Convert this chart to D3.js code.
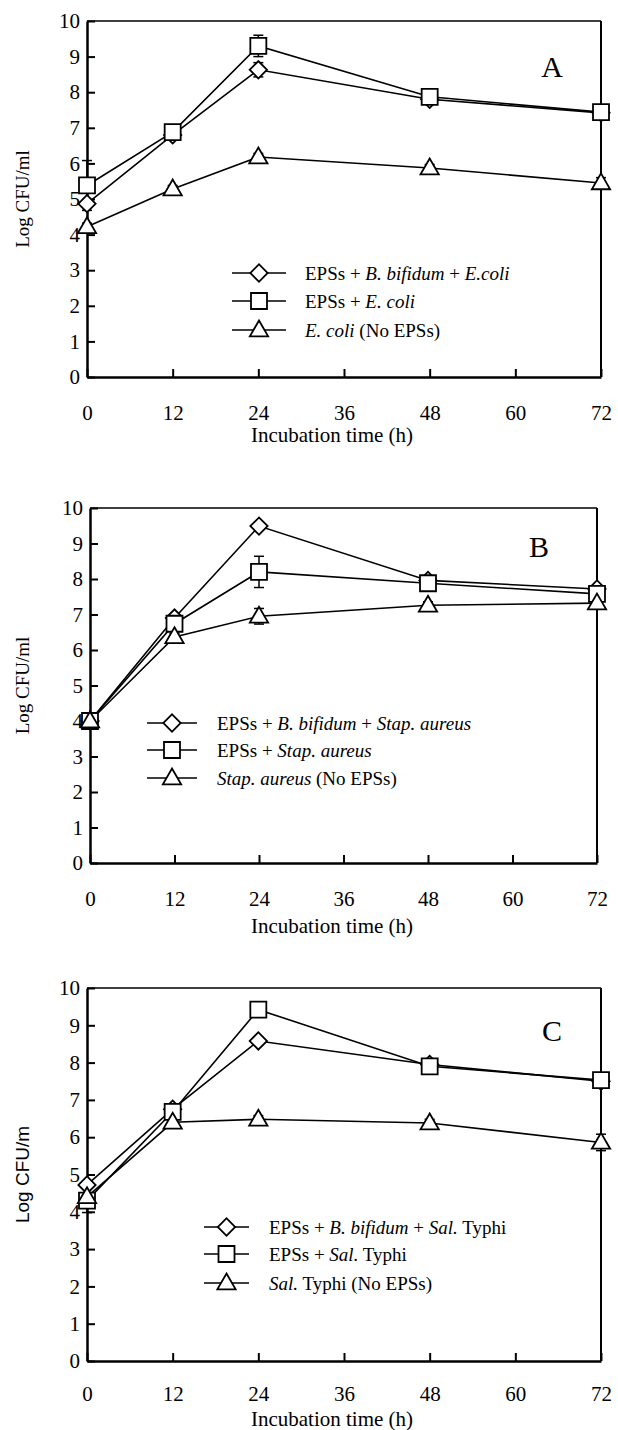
<!DOCTYPE html>
<html>
<head>
<meta charset="utf-8">
<script src="https://cdn.jsdelivr.net/npm/d3@7"></script>
<style>
body { margin: 0; background: #fff; }
</style>
</head>
<body>
<svg id="chart" width="618" height="1430"></svg>
<script>
// sampling times (h) and axis ticks
var hours = [0, 12, 24, 48, 72];
var xTicks = [0, 12, 24, 36, 48, 60, 72];
var yTicks = [0, 1, 2, 3, 4, 5, 6, 7, 8, 9, 10];

// panel A - E. coli
var aDiamond = [4.87, 6.8, 8.63, 7.8, 7.42];
var aSquare = [5.38, 6.88, 9.3, 7.87, 7.44];
var aTriangle = [4.22, 5.28, 6.18, 5.87, 5.45];
var aDiamondErr = [0.1, 0.1, 0.2, 0.1, 0.1];
var aSquareErr = [0.7, 0.1, 0.3, 0.1, 0.1];
var aTriangleErr = [0.1, 0.1, 0.1, 0.1, 0.15];

// panel B - Stap. aureus
var bDiamond = [4.0, 6.9, 9.49, 7.96, 7.72];
var bSquare = [4.0, 6.74, 8.2, 7.88, 7.58];
var bTriangle = [4.0, 6.37, 6.95, 7.26, 7.32];
var bDiamondErr = [0.1, 0.1, 0.1, 0.1, 0.1];
var bSquareErr = [0.1, 0.1, 0.44, 0.1, 0.1];
var bTriangleErr = [0.1, 0.1, 0.22, 0.1, 0.1];

// panel C - Sal. Typhi
var cDiamond = [4.72, 6.75, 8.58, 7.95, 7.5];
var cSquare = [4.3, 6.68, 9.42, 7.9, 7.53];
var cTriangle = [4.4, 6.4, 6.48, 6.38, 5.86];
var cDiamondErr = [0.1, 0.1, 0.1, 0.1, 0.1];
var cSquareErr = [0.32, 0.1, 0.1, 0.1, 0.1];
var cTriangleErr = [0.1, 0.1, 0.1, 0.1, 0.22];

// legend texts: [text, italic]
var aLegend = [
    [["EPSs + ", false], ["B. bifidum", true], [" + ", false], ["E.coli", true]],
    [["EPSs + ", false], ["E. coli", true]],
    [["E. coli", true], [" (No EPSs)", false]]
];
var bLegend = [
    [["EPSs + ", false], ["B. bifidum", true], [" + ", false], ["Stap. aureus", true]],
    [["EPSs + ", false], ["Stap. aureus", true]],
    [["Stap. aureus", true], [" (No EPSs)", false]]
];
var cLegend = [
    [["EPSs + ", false], ["B. bifidum", true], [" + ", false], ["Sal.", true], [" Typhi", false]],
    [["EPSs + ", false], ["Sal.", true], [" Typhi", false]],
    [["Sal.", true], [" Typhi (No EPSs)", false]]
];

var SERIF = '"Liberation Serif", "DejaVu Serif", "Times New Roman", serif';
var SANS = '"Liberation Sans", Arial, sans-serif';

var panels = [
    { letter: "A", ylabel: "Log CFU/ml", yfont: SERIF, left: 87, right: 601, top: 21, bottom: 377,
      tickPad: 28, titleDy: 65, letterX: 552, letterY: 77,
      legX0: 232, legX1: 286, legRows: [273, 301, 330], legTextX: 305,
      series: [[aDiamond, aDiamondErr, "diamond"], [aSquare, aSquareErr, "square"], [aTriangle, aTriangleErr, "triangle"]],
      legend: aLegend },
    { letter: "B", ylabel: "Log CFU/ml", yfont: SERIF, left: 90, right: 597, top: 508, bottom: 863,
      tickPad: 28, titleDy: 70, letterX: 539, letterY: 557,
      legX0: 147, legX1: 197, legRows: [723, 750, 778], legTextX: 217,
      series: [[bDiamond, bDiamondErr, "diamond"], [bSquare, bSquareErr, "square"], [bTriangle, bTriangleErr, "triangle"]],
      legend: bLegend },
    { letter: "C", ylabel: "Log CFU/m", yfont: SANS, left: 87, right: 601, top: 988, bottom: 1361,
      tickPad: 25, titleDy: 65, letterX: 552, letterY: 1041,
      legX0: 204, legX1: 249, legRows: [1227, 1254, 1283], legTextX: 269,
      series: [[cDiamond, cDiamondErr, "diamond"], [cSquare, cSquareErr, "square"], [cTriangle, cTriangleErr, "triangle"]],
      legend: cLegend }
];

var svg = d3.select("#chart").attr("font-family", SERIF);

function marker(g, shape, cx, cy) {
    var path;
    if (shape === "square") {
        path = d3.symbol().type(d3.symbolSquare).size(256)();
        g.append("path").attr("d", path).attr("transform", "translate(" + cx + "," + cy + ")");
    } else if (shape === "diamond") {
        path = d3.symbol().type(d3.symbolSquare).size(150)();
        g.append("path").attr("d", path).attr("transform", "translate(" + cx + "," + cy + ") rotate(45)");
    } else {
        path = d3.symbol().type(d3.symbolTriangle).size(145)();
        g.append("path").attr("d", path).attr("transform", "translate(" + cx + "," + (cy + 1) + ")");
    }
}

panels.forEach(function(p) {
    var x = d3.scaleLinear().domain([0, 72]).range([p.left, p.right]);
    var y = d3.scaleLinear().domain([0, 10]).range([p.bottom, p.top]);
    var g = svg.append("g");

    // box
    g.append("line").attr("x1", p.left).attr("x2", p.right).attr("y1", p.top).attr("y2", p.top)
        .attr("stroke", "#000").attr("stroke-width", 1.5);
    g.append("line").attr("x1", p.right).attr("x2", p.right).attr("y1", p.top).attr("y2", p.bottom)
        .attr("stroke", "#000").attr("stroke-width", 2);

    var xAxis = g.append("g")
        .attr("transform", "translate(0," + p.bottom + ")")
        .call(d3.axisBottom(x).tickValues(xTicks).tickSize(-8).tickSizeOuter(0).tickPadding(p.tickPad));
    var yAxis = g.append("g")
        .attr("transform", "translate(" + p.left + ",0)")
        .call(d3.axisLeft(y).tickValues(yTicks).tickSize(-8).tickSizeOuter(0).tickPadding(7));
    [xAxis, yAxis].forEach(function(ax) {
        ax.attr("font-family", SERIF).attr("font-size", 21);
        ax.select(".domain").attr("stroke-width", 2.5);
        ax.selectAll(".tick line").attr("stroke-width", 2);
        ax.selectAll("text").attr("fill", "#000");
    });

    // axis titles
    g.append("text")
        .attr("x", 332).attr("y", p.bottom + p.titleDy)
        .attr("text-anchor", "middle")
        .attr("font-family", SERIF)
        .attr("font-size", 21)
        .text("Incubation time (h)");
    g.append("text")
        .attr("transform", "translate(29," + ((p.top + p.bottom) / 2) + ") rotate(-90)")
        .attr("text-anchor", "middle")
        .attr("font-family", p.yfont)
        .attr("font-size", 19)
        .text(p.ylabel);

    g.append("text")
        .attr("x", p.letterX).attr("y", p.letterY)
        .attr("text-anchor", "middle")
        .attr("font-family", SERIF)
        .attr("font-size", 30)
        .text(p.letter);

    var line = d3.line().x(function(d, i) { return x(hours[i]); }).y(function(d) { return y(d); });

    p.series.forEach(function(s) {
        g.append("path").datum(s[0]).attr("d", line)
            .attr("fill", "none").attr("stroke", "#000").attr("stroke-width", 1.6);
    });

    // error bars
    p.series.forEach(function(s) {
        s[0].forEach(function(v, i) {
            var e = s[1][i];
            var cx = x(hours[i]);
            g.append("line").attr("x1", cx).attr("x2", cx).attr("y1", y(v - e)).attr("y2", y(v + e))
                .attr("stroke", "#000").attr("stroke-width", 1.5);
            [v - e, v + e].forEach(function(w) {
                g.append("line").attr("x1", cx - 5).attr("x2", cx + 5).attr("y1", y(w)).attr("y2", y(w))
                    .attr("stroke", "#000").attr("stroke-width", 1.5);
            });
        });
    });

    // markers
    p.series.forEach(function(s) {
        var mg = g.append("g").attr("fill", "#fff").attr("stroke", "#000").attr("stroke-width", 1.8);
        s[0].forEach(function(v, i) {
            marker(mg, s[2], x(hours[i]), y(v));
        });
    });

    // legend
    p.series.forEach(function(s, k) {
        var ly = p.legRows[k];
        g.append("line").attr("x1", p.legX0).attr("x2", p.legX1).attr("y1", ly).attr("y2", ly)
            .attr("stroke", "#000").attr("stroke-width", 1.6);
        var mg = g.append("g").attr("fill", "#fff").attr("stroke", "#000").attr("stroke-width", 1.8);
        marker(mg, s[2], (p.legX0 + p.legX1) / 2, ly);
        var t = g.append("text").attr("x", p.legTextX).attr("y", ly).attr("dy", "0.35em")
            .attr("font-family", SERIF).attr("font-size", 19).attr("xml:space", "preserve");
        p.legend[k].forEach(function(part) {
            t.append("tspan").text(part[0]).attr("font-style", part[1] ? "italic" : "normal");
        });
    });
});
</script>
</body>
</html>
